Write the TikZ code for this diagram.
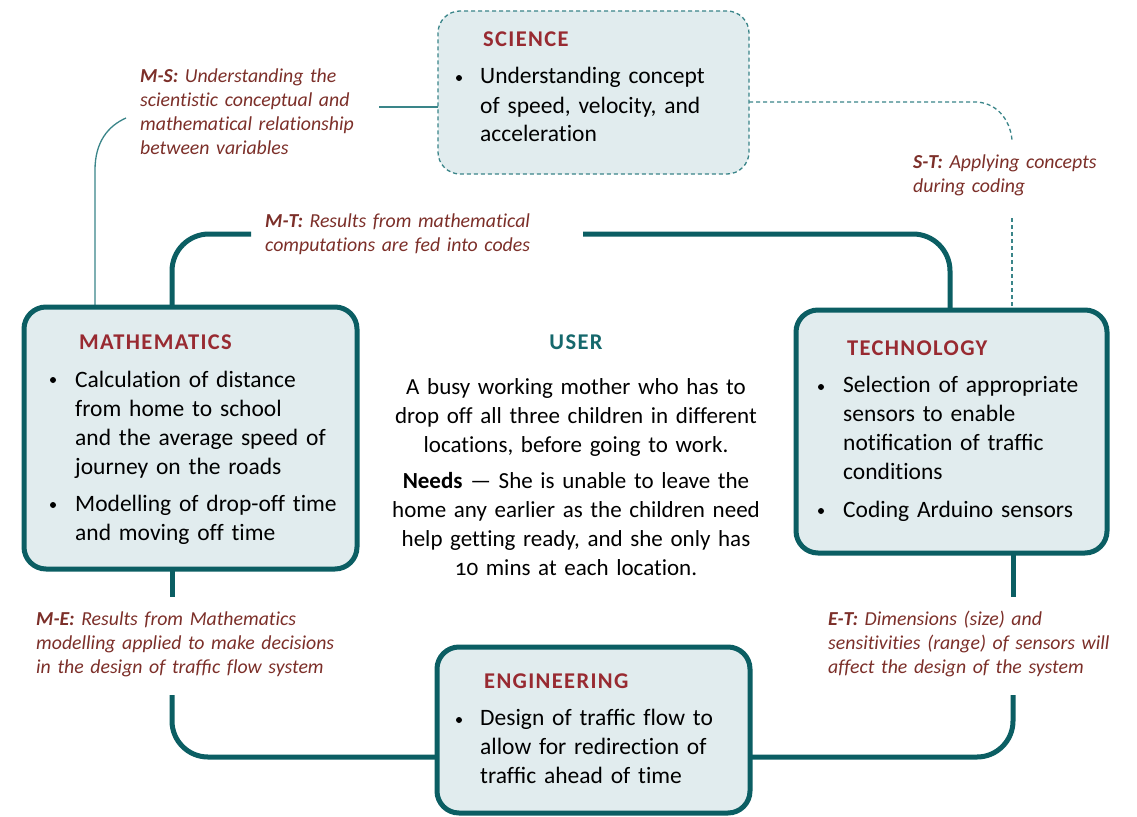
\documentclass[tikz,border=0pt]{standalone}
\usepackage{fontspec}
\setmainfont{Carlito}[Numbers=OldStyle, Ligatures=NoCommon]
\usetikzlibrary{calc}

\definecolor{stemteal}{HTML}{0B5E63}
\definecolor{thinteal}{HTML}{3A8589}
\definecolor{boxfill}{HTML}{E1ECEE}
\definecolor{titlered}{HTML}{982A31}
\definecolor{labelred}{HTML}{7C2F29}
\definecolor{usertitle}{HTML}{15686C}

\tikzset{
  box/.style={draw=stemteal, line width=5pt, fill=boxfill, rounded corners=22pt,
    inner sep=0, outer sep=0, anchor=north west},
  dashbox/.style={draw=thinteal, line width=1.3pt, dash pattern=on 4pt off 3pt,
    fill=boxfill, rounded corners=22pt, inner sep=0, outer sep=0, anchor=north west},
  boxtitle/.style={font=\fontsize{22.5}{22.5}\selectfont\bfseries\addfontfeatures{LetterSpace=6},
    text=titlered, anchor=base west, inner sep=0},
  body/.style={font=\fontsize{23.5}{29}\selectfont, text=black, anchor=base west,
    inner sep=0, align=left, text width=300pt},
  dot/.style={circle, fill=black, inner sep=0, minimum size=6pt},
  lab/.style={font=\fontsize{19.8}{24}\selectfont\itshape, text=labelred, anchor=base west,
    inner sep=0, align=left, text width=320pt},
  conn/.style={draw=stemteal, line width=5pt},
  thinconn/.style={draw=thinteal, line width=1.3pt},
  dashconn/.style={draw=thinteal, line width=1.3pt, dash pattern=on 4pt off 3pt},
}

\begin{document}
\begin{tikzpicture}[x=1pt, y=-1pt]
\useasboundingbox (0,0) rectangle (1137,816);
\fill[white] (0,0) rectangle (1137,816);

% free ends and guide points of the connectors
\coordinate (mtA) at (251,234);
\coordinate (mtB) at (583,234);
\coordinate (mtx) at (172,234);
\coordinate (tx)  at (950,234);
\coordinate (msA) at (126,118);
\coordinate (msx) at (95,170);
\coordinate (msB) at (379,107);
\coordinate (stY) at (975,102);
\coordinate (stA) at (1012,140);
\coordinate (stB) at (1012,218);
\coordinate (etA) at (1013,597);
\coordinate (etB) at (1013,695);
\coordinate (meA) at (172,597);
\coordinate (meB) at (172,695);
\coordinate (engY) at (600,757);

% connectors (drawn first, boxes cover their ends)
\draw[conn, rounded corners=37pt] (mtx |- 0,307) |- (mtA);
\draw[conn, rounded corners=37pt] (mtB) -| (tx |- 0,310);
\draw[thinconn] (msx |- 0,307) -- (msx) .. controls (95,142) and (108,126) .. (msA);
\draw[thinconn] (msB) -- (438,107);
\draw[dashconn] (749,102) -- (stY) .. controls (995,102) and (1010,118) .. (stA);
\draw[dashconn] (stB) -- (stB |- 0,310);
\draw[conn] (etA |- 0,553) -- (etA);
\draw[conn, rounded corners=36pt] (etB) |- (engY);
\draw[conn] (meA |- 0,569) -- (meA);
\draw[conn, rounded corners=36pt] (meB) |- (engY);

% boxes
\node[dashbox, minimum width=311pt, minimum height=163pt] (sci) at (438,11) {};
\node[box, minimum width=333pt, minimum height=262pt] (math) at (24,307) {};
\node[box, minimum width=311pt, minimum height=243pt] (tech) at (796,310) {};
\node[box, minimum width=313pt, minimum height=166pt] (eng) at (437,647) {};

% science
\node[boxtitle] (scit) at (483,47) {SCIENCE};
\node[dot] (scib) at (459,78) {};
\node[body] (scii) at (480,84) {Understanding concept\\of speed, velocity, and\\acceleration};

% mathematics
\node[boxtitle] (matht) at (79,349) {MATHEMATICS};
\node[dot] (mathb1) at (53,380) {};
\node[body] (mathi1) at (75,387) {Calculation of distance\\from home to school\\and the average speed of\\journey on the roads};
\node[dot] (mathb2) at (53,505) {};
\node[body] (mathi2) at (75,511) {Modelling of drop-off time\\and moving off time};

% technology
\node[boxtitle] (techt) at (847,355) {TECHNOLOGY};
\node[dot] (techb1) at (821,387) {};
\node[body] (techi1) at (843,392) {Selection of appropriate\\sensors to enable\\noti^^^^fb01cation of traf^^^^fb01c\\conditions};
\node[dot] (techb2) at (821,511) {};
\node[body] (techi2) at (843,517) {Coding Arduino sensors};

% engineering
\node[boxtitle] (engt) at (484,688) {ENGINEERING};
\node[dot] (engb) at (459,720) {};
\node[body] (engi) at (480,725) {Design of traf^^^^fb01c flow to\\allow for redirection of\\traf^^^^fb01c ahead of time};

% user
\node[boxtitle, text=usertitle, anchor=base] (usert) at (576,349) {USER};
\node[body, font=\fontsize{23}{29}\selectfont, anchor=base, align=center, text width=400pt] (user) at (576,394)
  {A busy working mother who has to\\drop off all three children in different\\locations, before going to work.\\[7pt]
   \textbf{Needs} — She is unable to leave the\\home any earlier as the children need\\help getting ready, and she only has\\10 mins at each location.};

% link labels
\node[lab] (msl) at (140,82) {\textbf{M-S:} Understanding the\\scientistic conceptual and\\mathematical relationship\\between variables};
\node[lab] (mtl) at (265,227) {\textbf{M-T:} Results from mathematical\\computations are fed into codes};
\node[lab] (stl) at (913,168) {\textbf{S-T:} Applying concepts\\during coding};
\node[lab] (mel) at (36,625) {\textbf{M-E:} Results from Mathematics\\modelling applied to make decisions\\in the design of traf^^^^fb01c flow system};
\node[lab] (etl) at (828,625) {\textbf{E-T:} Dimensions (size) and\\sensitivities (range) of sensors will\\affect the design of the system};
\end{tikzpicture}
\end{document}
